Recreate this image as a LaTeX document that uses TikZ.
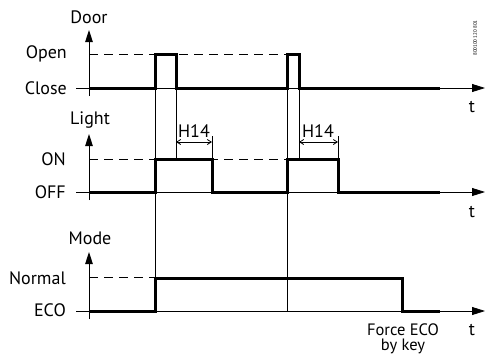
\documentclass[tikz,border=0pt]{standalone}
\usepackage{fontspec}
\setmainfont{PT Sans}
\usetikzlibrary{arrows.meta}
\begin{document}
\begin{tikzpicture}[x=1pt,y=-1pt,
  lbl/.style={font=\fontsize{18}{19}\selectfont, inner sep=0pt},
  axisline/.style={line width=1pt,-{Triangle[length=12pt,width=7.5pt]}},
  thin/.style={line width=0.8pt},
  sig/.style={line width=3pt},
  lvl/.style={line width=0.8pt, dash pattern=on 9pt off 6pt},
  dim/.style={line width=0.8pt,{Straight Barb[length=4pt,width=5pt]}-{Straight Barb[length=4pt,width=5pt]}}]
\useasboundingbox (0,0) rectangle (485,354);
% ---------- Door ----------
\node[lbl] (door) at (89,17) {Door};
\coordinate (dO) at (89,96); \coordinate (dA) at (89,30);
\draw[axisline] (dO) -- (dA);
\coordinate (dcl) at (76,88); \coordinate (dce) at (485,88);
\draw[thin,-{Triangle[length=13pt,width=8pt]}] (dcl) -- (dce);
\node[lbl,anchor=east] (open) at (67,54) {Open};
\node[lbl,anchor=east] (close) at (67,88) {Close};
\draw[lvl] (89,54) -- (287,54);
\draw[sig] (89,88) -- (155,88) -- (155,54) -- (176,54) -- (176,88) -- (287,88) -- (287,54) -- (299,54) -- (299,88) -- (440,88);
\node[lbl] (t1) at (472,107) {t};
% ---------- Light ----------
\node[lbl] (light) at (90,120) {Light};
\draw[axisline] (89,200) -- (89,134);
\draw[thin,-{Triangle[length=13pt,width=8pt]}] (76,192) -- (485,192);
\node[lbl,anchor=east] (on) at (66,159) {ON};
\node[lbl,anchor=east] (off) at (66,192) {OFF};
\draw[lvl] (89,159) -- (287,159);
\draw[sig] (89,192) -- (155,192) -- (155,159) -- (212,159) -- (212,192) -- (287,192) -- (287,159) -- (338,159) -- (338,192) -- (440,192);
\node[lbl] (t2) at (472,212) {t};
% H14 markers
\draw[thin] (212,159) -- (212,136);
\draw[thin] (338,159) -- (338,136);
\draw[dim] (176,142) -- (212,142);
\draw[dim] (299,142) -- (338,142);
\node[lbl] (h1) at (194,131) {H14};
\node[lbl] (h2) at (318,131) {H14};
% ---------- Mode ----------
\node[lbl] (mode) at (90,238) {Mode};
\draw[axisline] (89,319) -- (89,252);
\draw[thin,-{Triangle[length=13pt,width=8pt]}] (76,311) -- (485,311);
\node[lbl,anchor=east] (normal) at (66,278) {Normal};
\node[lbl,anchor=east] (eco) at (66,310) {ECO};
\draw[lvl] (89,277) -- (155,277);
\draw[sig] (89,311) -- (155,311) -- (155,278) -- (402,278) -- (402,311) -- (440,311);
\node[lbl,anchor=base,font=\fontsize{16.5}{17}\selectfont] (force) at (403,335.5) {Force ECO};
\node[lbl,anchor=base,font=\fontsize{16.5}{17}\selectfont] (bykey) at (403,350) {by key};
\node[lbl] (t3) at (472,330) {t};
% ---------- vertical guides ----------
\draw[thin] (155,54) -- (155,311);
\draw[thin] (176,54) -- (176,159);
\draw[thin] (287,54) -- (287,311);
\draw[thin] (299,54) -- (299,159);
% ---------- code ----------
\node[font=\fontsize{5}{6}\selectfont, rotate=90, inner sep=0pt] (code) at (475,38) {800100 120 801};
\end{tikzpicture}
\end{document}
